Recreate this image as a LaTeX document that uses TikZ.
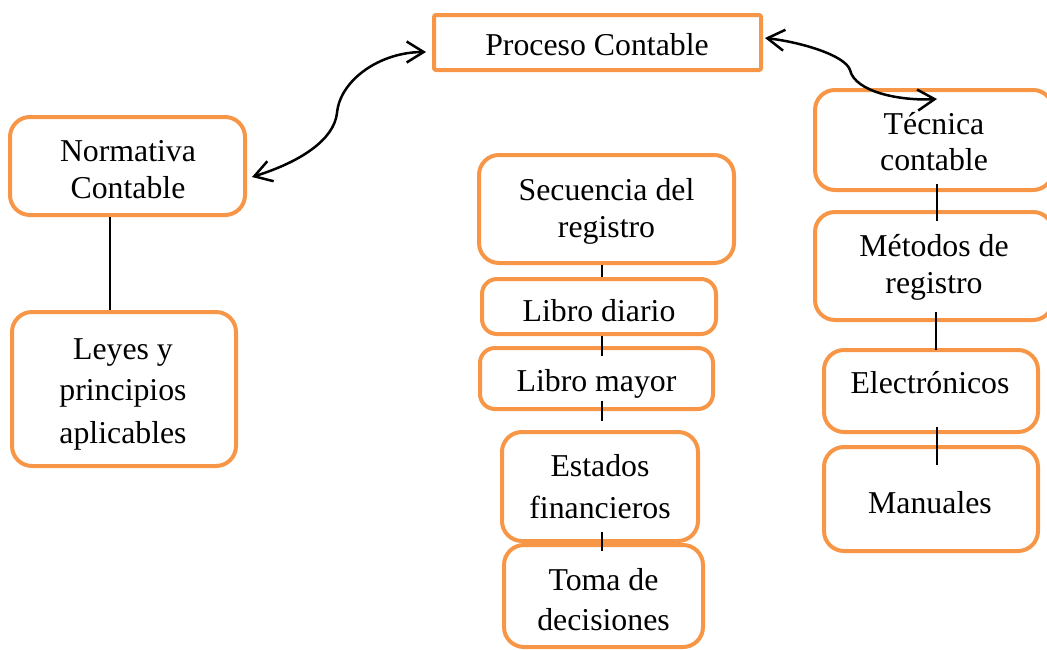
\documentclass[tikz,border=0pt]{standalone}
\usepackage{fontspec}
\setmainfont{Liberation Serif}
\usetikzlibrary{arrows.meta}
\definecolor{orng}{HTML}{F79646}
\begin{document}
\begin{tikzpicture}[x=1pt,y=-1pt,
  box/.style={draw=orng,line width=4pt,rounded corners=20pt,inner sep=0pt},
  txt/.style={anchor=base,inner sep=0pt,font=\fontsize{31.8}{37}\selectfont},
  link/.style={line width=2pt},
  barb/.style={line width=2.5pt,{Straight Barb[length=17pt,width=21pt]}-{Straight Barb[length=17pt,width=21pt]}}]
\useasboundingbox (0,0) rectangle (1047,649);
% boxes
\node[box,rounded corners=2pt,minimum width=327pt,minimum height=55pt] (proc) at (597.5,42.5) {};
\node[box,minimum width=235pt,minimum height=98pt] (norm) at (127.5,166) {};
\node[box,minimum width=224pt,minimum height=154pt] (leyes) at (124,389) {};
\node[box,minimum width=255pt,minimum height=108pt] (sec) at (606.5,209) {};
\node[box,rounded corners=15pt,minimum width=234pt,minimum height=55pt] (diario) at (599,306.5) {};
\node[box,rounded corners=15pt,minimum width=233pt,minimum height=61pt] (mayor) at (596.5,378.5) {};
\node[box,minimum width=196pt,minimum height=109pt] (estados) at (600,486.5) {};
\node[box,minimum width=199pt,minimum height=102pt] (toma) at (603.5,596) {};
\node[box,minimum width=238pt,minimum height=100pt] (tec) at (934,140) {};
\node[box,minimum width=238pt,minimum height=108pt] (met) at (934,266) {};
\node[box,minimum width=214pt,minimum height=82pt] (elec) at (931,391) {};
\node[box,minimum width=214pt,minimum height=104pt] (man) at (931,499) {};
% texts
\node[txt] (t1) at (597,55) {Proceso Contable};
\node[txt] (t2a) at (128,161.7) {Normativa};
\node[txt] (t2b) at (128,198) {Contable};
\node[txt] (t3a) at (123,359.5) {Leyes y};
\node[txt] (t3b) at (123,400) {principios};
\node[txt] (t3c) at (123,443) {aplicables};
\node[txt] (t4a) at (606.5,200) {Secuencia del};
\node[txt] (t4b) at (606.5,237) {registro};
\node[txt] (t5) at (599,321.7) {Libro diario};
\node[txt] (t6) at (596.5,391.7) {Libro mayor};
\node[txt] (t7a) at (600,476.7) {Estados};
\node[txt] (t7b) at (600,518.3) {financieros};
\node[txt] (t8a) at (603.5,590) {Toma de};
\node[txt] (t8b) at (603.5,630.7) {decisiones};
\node[txt] (t9a) at (934,134.3) {Técnica};
\node[txt] (t9b) at (934,170.7) {contable};
\node[txt] (t10a) at (934,256.7) {Métodos de};
\node[txt] (t10b) at (934,293.3) {registro};
\node[txt] (t11) at (930,393) {Electrónicos};
\node[txt] (t12) at (930,513) {Manuales};
% vertical links
\draw[link] ([xshift=-17.5pt]norm.south) -- ([xshift=-14pt]leyes.north);
\draw[link] ([xshift=-4.5pt]sec.south) -- ([xshift=3pt]diario.north);
\draw[link] ([xshift=3pt]diario.south) -- ([xshift=5.5pt,yshift=-10pt]mayor.north);
\draw[link] ([xshift=5.5pt,yshift=10pt]mayor.south) -- ([xshift=2pt,yshift=9pt]estados.north);
\draw[link] ([xshift=2pt,yshift=11pt]estados.south) -- ([xshift=-1.5pt,yshift=-8pt]toma.north);
\draw[link] ([xshift=3pt,yshift=8pt]tec.south) -- ([xshift=3pt,yshift=-11pt]met.north);
\draw[link] ([xshift=2pt,yshift=10pt]met.south) -- ([xshift=5pt,yshift=-2pt]elec.north);
\draw[link] ([xshift=6pt,yshift=7pt]elec.south) -- ([xshift=6pt,yshift=-20pt]man.north);
% curved arrows
\draw[barb] ([xshift=5pt,yshift=-11pt]norm.east) .. controls (300,162) and (334,140) .. (337,113)
  .. controls (340,80) and (380,52) .. ([xshift=-6pt,yshift=-9.5pt]proc.west);
\draw[barb] ([xshift=2pt,yshift=4.5pt]proc.east) .. controls (800,42) and (845,55) .. (850,70)
  .. controls (855,92) and (900,101) .. ([xshift=3pt,yshift=-11pt]tec.north);
\end{tikzpicture}
\end{document}
